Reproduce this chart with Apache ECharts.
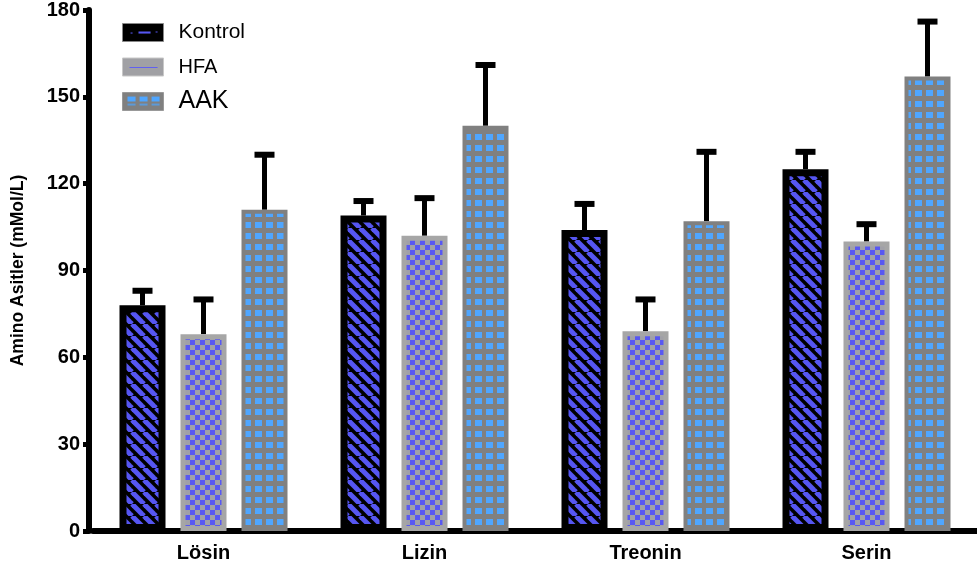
<!DOCTYPE html>
<html><head><meta charset="utf-8">
<script src="https://cdn.jsdelivr.net/npm/echarts@6/dist/echarts.min.js"></script>
<style>html,body{margin:0;padding:0;background:#fff}#c{width:977px;height:569px}</style>
</head><body><div id="c"></div>
<script>
const categories = ['Lösin', 'Lizin', 'Treonin', 'Serin'];
const seriesNames = ['Kontrol', 'HFA', 'AAK'];
const kontrol = [78, 109, 104, 125];
const hfa = [68, 102, 69, 100];
const aak = [111, 140, 107, 157];
const kontrolErr = [83, 114, 113, 131];
const hfaErr = [80, 115, 80, 106];
const aakErr = [130, 161, 131, 176];
const yTicks = [0, 30, 60, 90, 120, 150, 180];

function tile(w, h, draw) {
  const c = document.createElement('canvas');
  c.width = w; c.height = h;
  draw(c.getContext('2d'));
  return { image: c, repeat: 'repeat' };
}
const stripePat = tile(12, 12, g => {
  g.fillStyle = '#000'; g.fillRect(0, 0, 12, 12);
  g.strokeStyle = '#5656F2'; g.lineWidth = 5;
  for (let x0 = -12; x0 <= 12; x0 += 12) {
    g.beginPath(); g.moveTo(x0, 0); g.lineTo(x0 + 12, 12); g.stroke();
  }
});
const checkPat = tile(10, 10, g => {
  g.fillStyle = '#A0A0A8'; g.fillRect(0, 0, 10, 10);
  g.fillStyle = '#5858F2'; g.fillRect(0, 0, 5, 5); g.fillRect(5, 5, 5, 5);
});
const gridPat = tile(11, 11, g => {
  g.fillStyle = '#808080'; g.fillRect(0, 0, 11, 11);
  g.fillStyle = '#4FA6FF'; g.fillRect(2, 2, 7, 6);
});
const legendK = tile(41, 18, g => {
  g.fillStyle = '#000'; g.fillRect(0, 0, 41, 18);
  g.fillStyle = '#5656F2'; g.fillRect(16, 8, 12, 2); g.fillRect(8, 9, 2, 1); g.fillRect(33, 8, 2, 1);
});
const legendH = tile(41, 18, g => {
  g.fillStyle = '#A0A0A4'; g.fillRect(0, 0, 41, 18);
  g.fillStyle = '#6060F0'; g.fillRect(7, 9, 28, 1);
});
const legendA = tile(41, 18, g => {
  g.fillStyle = '#808080'; g.fillRect(0, 0, 41, 18);
  g.fillStyle = '#4FA6FF';
  [5, 17, 29].forEach(x => { g.fillRect(x, 4, 8, 5); });
  g.fillStyle = '#5C9AD8';
  [5, 17, 29].forEach(x => { g.fillRect(x, 11, 8, 2); });
});

const barWidth = 46, barGapPx = 15;
const styles = [
  { color: stripePat, borderColor: '#000', borderWidth: 7 },
  { color: checkPat, borderColor: '#A6A6A6', borderWidth: 5 },
  { color: gridPat, borderColor: '#808080', borderWidth: 4 }
];
const values = [kontrol, hfa, aak];
const errs = [kontrolErr, hfaErr, aakErr];

const series = [];
seriesNames.forEach((n, i) => {
  series.push({
    name: n, type: 'bar', data: values[i], barWidth: barWidth, barGap: (barGapPx / barWidth * 100) + '%',
    itemStyle: styles[i], z: 3
  });
});
seriesNames.forEach((n, i) => {
  const off = (i - 1) * (barWidth + barGapPx);
  series.push({
    type: 'custom', z: 2, silent: true,
    data: categories.map((c, j) => [j, values[i][j], errs[i][j]]),
    renderItem: (params, api) => {
      const base = api.coord([api.value(0), api.value(1)]);
      const top = api.coord([api.value(0), api.value(2)]);
      const x = base[0] + off;
      return { type: 'group', children: [
        { type: 'rect', shape: { x: x - 2.5, y: top[1], width: 5, height: base[1] - top[1] }, style: { fill: '#000' } },
        { type: 'rect', shape: { x: x - 10, y: top[1] - 3, width: 20, height: 6 }, style: { fill: '#000' } }
      ]};
    }
  });
});

const ls = '"Liberation Sans", Arial, sans-serif';
const legendIcons = [legendK, legendH, legendA];
const legendBorders = ['#888', '#C8C8C8', '#999'];
const legendFont = [21, 20, 25];
const legendTop = [22, 57, 89];
const legends = seriesNames.map((n, i) => ({
  orient: 'vertical', left: 122, top: legendTop[i], padding: 0, itemWidth: 41, itemHeight: 18,
  icon: 'rect',
  data: [{ name: n, itemStyle: { color: legendIcons[i], borderColor: legendBorders[i], borderWidth: 1 } }],
  textStyle: { color: '#000', fontFamily: ls, fontSize: legendFont[i], lineHeight: 18, padding: [0, 0, 0, 10] }
}));

const chart = echarts.init(document.getElementById('c'));
chart.setOption({
  animation: false,
  textStyle: { fontFamily: ls },
  grid: { left: 93, width: 888, top: 10, bottom: 38, containLabel: false },
  legend: legends,
  xAxis: {
    type: 'category', data: categories,
    axisLine: { lineStyle: { color: '#000', width: 6 } },
    axisTick: { alignWithLabel: true, length: 6, lineStyle: { width: 5, color: '#000' } },
    axisLabel: { color: '#000', fontWeight: 'bold', fontSize: 20, margin: 12 }
  },
  yAxis: {
    type: 'value', min: yTicks[0], max: yTicks[yTicks.length - 1], interval: 30, offset: 4,
    name: 'Amino Asitler (mMol/L)', nameLocation: 'middle', nameGap: 62,
    nameTextStyle: { color: '#000', fontWeight: 'bold', fontSize: 17.5 },
    axisLine: { show: true, lineStyle: { color: '#000', width: 6 } },
    axisTick: { show: true, length: 6, lineStyle: { width: 5, color: '#000' } },
    axisLabel: { color: '#000', fontWeight: 'bold', fontSize: 20, margin: 9 },
    splitLine: { show: false }
  },
  series: series
});
</script></body></html>
